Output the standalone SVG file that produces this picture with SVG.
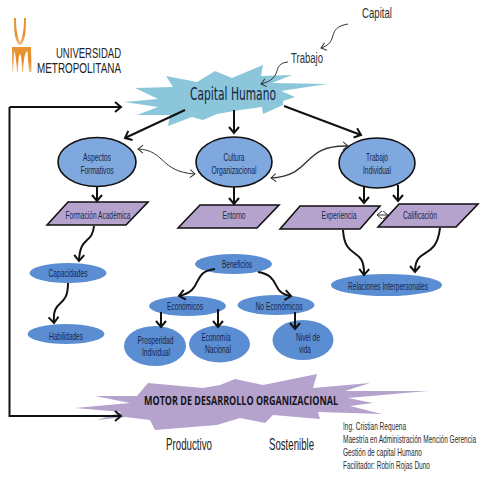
<svg xmlns="http://www.w3.org/2000/svg" width="480" height="480" viewBox="0 0 480 480">
<style>
text{font-family:"Liberation Sans",Arial,sans-serif;text-anchor:middle}
.l{font-size:11.500px;fill:#16264c}
.i{font-size:11.500px;fill:#2b2b2b;text-anchor:start}
.o{fill:#7fa8de;stroke:#111;stroke-width:1.6}
.p{fill:#b6a3cd;stroke:#111;stroke-width:1.6}
.b{fill:#5b8dd2}
.t{font-size:17px;fill:#222}
.c{fill:none;stroke:#111;stroke-width:2}
.m{fill:none;stroke:#111;stroke-width:2}
.n{fill:none;stroke:#333;stroke-width:1}
</style>
<defs>
<marker id="a" markerUnits="userSpaceOnUse" markerWidth="14" markerHeight="14" refX="10" refY="7" orient="auto"><path d="M4,2 L10,7 L4,12" fill="none" stroke="#111" stroke-width="2"/></marker>
<marker id="s" markerUnits="userSpaceOnUse" markerWidth="12" markerHeight="12" refX="9" refY="6" orient="auto-start-reverse"><path d="M4,2 L9,6 L4,10" fill="none" stroke="#333" stroke-width="1"/></marker>
<linearGradient id="og" x1="0" y1="0" x2="0" y2="1"><stop offset="0" stop-color="#e8963a"/><stop offset="0.6" stop-color="#e98a22"/><stop offset="1" stop-color="#f4c48a"/></linearGradient>
</defs>
<g id="logo">
<path d="M14,18 L16,18 C16,32 18,40 21,43 L19,45 C15,41 14,32 14,18Z M24,18 L26,18 C26,32 25,41 21,45 L19,44 C22,40 24,32 24,18Z" fill="url(#og)"/>
<path d="M12,47 H31 L31.500,72 H29 L27.500,51 C25,53 24,56 23,72 H22 C22,60 21,54 20,54 C19,54 18,60 18,72 H17 C16,56 15,53 14,51 L13,72 H12.500Z" fill="url(#og)"/>
<text x="88.500" y="58" font-size="14.500" fill="#222" textLength="65" lengthAdjust="spacingAndGlyphs">UNIVERSIDAD</text>
<text x="79" y="73" font-size="14.500" fill="#222" textLength="84" lengthAdjust="spacingAndGlyphs">METROPOLITANA</text>
</g>
<g id="capital-humano">
<path d="M124,102 L158,99 L135,88 L173,87 L166,76 L197,82 L215,71 L232,78 L263,65 L261,76 L292,75 L272,83 L327,84 L281,91 L295,97 L283,101 L283,105 L263,114 L262,107 L240,110 L217,114 L203,120 L192,117 L168,126 L170,115 L137,115 L158,107 Z" fill="#8cc6db"/>
<text x="233" y="100" font-size="17.500" fill="#14233f" textLength="86" lengthAdjust="spacingAndGlyphs" style="font-family:'DejaVu Sans',sans-serif">Capital Humano</text>
</g>
<g id="motor">
<path d="M148,383 L203,388 L220,385 L235,379 L263,385 L317,374 L313,388 L370,383 L345,391 L428,391 L348,398 L373,403 L350,406 L382,414 L318,412 L320,419 L273,415 L265,423 L240,418 L217,425 L155,430 L150,420 L125,417 L97,420 L122,412 L75,408 L130,403 L95,396 L137,396 Z" fill="#b6a3cd"/>
<text x="241" y="405" font-size="13" font-weight="bold" fill="#15151c" textLength="194" lengthAdjust="spacingAndGlyphs" style="font-family:'Open Sans',sans-serif">MOTOR DE DESARROLLO ORGANIZACIONAL</text>
</g>
<g id="aspectos"><ellipse class="o" cx="97" cy="162" rx="39" ry="24.500"/><text class="l" x="97" y="161" textLength="28" lengthAdjust="spacingAndGlyphs">Aspectos</text><text class="l" x="97" y="174" textLength="33" lengthAdjust="spacingAndGlyphs">Formativos</text></g>
<g id="cultura"><ellipse class="o" cx="234" cy="162" rx="38" ry="25"/><text class="l" x="234" y="161" textLength="21" lengthAdjust="spacingAndGlyphs">Cultura</text><text class="l" x="234" y="174" textLength="45" lengthAdjust="spacingAndGlyphs">Organizacional</text></g>
<g id="trabajo-individual"><ellipse class="o" cx="377" cy="163" rx="38" ry="25"/><text class="l" x="377" y="161" textLength="22" lengthAdjust="spacingAndGlyphs">Trabajo</text><text class="l" x="377" y="174" textLength="28" lengthAdjust="spacingAndGlyphs">Individual</text></g>
<g id="formacion"><path class="p" d="M47,225 L68,202 L148,202 L126,225Z"/><text class="l" x="98" y="219" textLength="65" lengthAdjust="spacingAndGlyphs">Formación Académica</text></g>
<g id="entorno"><path class="p" d="M178,228 L200,205 L279,205 L257,228Z"/><text class="l" x="234" y="219" textLength="23" lengthAdjust="spacingAndGlyphs">Entorno</text></g>
<g id="experiencia"><path class="p" d="M280,229 L300,206 L380,206 L360,229Z"/><text class="l" x="339" y="219" textLength="35" lengthAdjust="spacingAndGlyphs">Experiencia</text></g>
<g id="calificacion"><path class="p" d="M378,227 L399,204 L478,204 L456,227Z"/><text class="l" x="420" y="219" textLength="34" lengthAdjust="spacingAndGlyphs">Calificación</text></g>
<g id="capacidades"><ellipse class="b" cx="68" cy="273" rx="38.500" ry="10"/><text class="l" x="68" y="277" textLength="39" lengthAdjust="spacingAndGlyphs">Capacidades</text></g>
<g id="habilidades"><ellipse class="b" cx="66" cy="334" rx="38.500" ry="10"/><text class="l" x="66" y="340" textLength="34" lengthAdjust="spacingAndGlyphs">Habilidades</text></g>
<g id="beneficios"><ellipse class="b" cx="233.500" cy="264" rx="38.500" ry="10"/><text class="l" x="237" y="268" textLength="30" lengthAdjust="spacingAndGlyphs">Beneficios</text></g>
<g id="economicos"><ellipse class="b" cx="187.500" cy="306" rx="38.500" ry="10"/><text class="l" x="185" y="310" textLength="36" lengthAdjust="spacingAndGlyphs">Económicos</text></g>
<g id="no-economicos"><ellipse class="b" cx="276" cy="305" rx="38.500" ry="10"/><text class="l" x="279" y="310" textLength="47" lengthAdjust="spacingAndGlyphs">No Económicos</text></g>
<g id="prosperidad"><ellipse class="b" cx="155" cy="346" rx="31" ry="20"/><text class="l" x="155.500" y="344" textLength="36" lengthAdjust="spacingAndGlyphs">Prosperidad</text><text class="l" x="156" y="356" textLength="28" lengthAdjust="spacingAndGlyphs">Individual</text></g>
<g id="economia"><ellipse class="b" cx="219.500" cy="344" rx="30.500" ry="18.500"/><text class="l" x="216" y="341" textLength="29" lengthAdjust="spacingAndGlyphs">Economía</text><text class="l" x="218" y="353" textLength="26" lengthAdjust="spacingAndGlyphs">Nacional</text></g>
<g id="nivel"><ellipse class="b" cx="303" cy="340" rx="30.500" ry="20"/><text class="l" x="308" y="341" textLength="24" lengthAdjust="spacingAndGlyphs">Nivel de</text><text class="l" x="305" y="353" textLength="12" lengthAdjust="spacingAndGlyphs">vida</text></g>
<g id="relaciones"><ellipse class="b" cx="386.500" cy="285" rx="55.500" ry="11"/><text class="l" x="388" y="290" textLength="80" lengthAdjust="spacingAndGlyphs">Relaciones Interpersonales</text></g>
<g id="labels">
<text x="377" y="18" font-size="14" fill="#333" textLength="30" lengthAdjust="spacingAndGlyphs">Capital</text>
<text x="307" y="63" font-size="14" fill="#333" textLength="32" lengthAdjust="spacingAndGlyphs">Trabajo</text>
<text class="t" x="189" y="450" textLength="46" lengthAdjust="spacingAndGlyphs">Productivo</text>
<text class="t" x="291.500" y="450" textLength="45" lengthAdjust="spacingAndGlyphs">Sostenible</text>
<text class="i" x="343" y="430" textLength="63" lengthAdjust="spacingAndGlyphs">Ing. Cristian Requena</text>
<text class="i" x="343" y="443" textLength="133" lengthAdjust="spacingAndGlyphs">Maestría en Administración Mención Gerencia</text>
<text class="i" x="343" y="456" textLength="79" lengthAdjust="spacingAndGlyphs">Gestión de capital Humano</text>
<text class="i" x="343" y="469" textLength="87" lengthAdjust="spacingAndGlyphs">Facilitador: Robín Rojas Duno</text>
</g>
<g id="connectors">
<path class="c" d="M9.500,107 V416 H121" marker-end="url(#a)"/>
<path class="c" d="M9.500,107 H121" marker-end="url(#a)"/>
<path class="c" d="M185,110 L125,138" marker-end="url(#a)"/>
<path class="c" d="M234,110 V133" marker-end="url(#a)"/>
<path class="c" d="M284,106 L361,135" marker-end="url(#a)"/>
<path class="m" d="M97,187 V201" marker-end="url(#a)"/>
<path class="m" d="M234,187 V204" marker-end="url(#a)"/>
<path class="m" d="M364,186 V203" marker-end="url(#a)"/>
<path class="m" d="M398,185 V201" marker-end="url(#a)"/>
<path class="m" d="M94,226 C92,245 80,235 79,261" marker-end="url(#a)"/>
<path class="m" d="M68,283 C68,310 52,297 54,323" marker-end="url(#a)"/>
<path class="m" d="M343,230 C345,262 365,245 364,275" marker-end="url(#a)"/>
<path class="m" d="M440,228 C436,262 415,245 415,272" marker-end="url(#a)"/>
<path class="m" d="M215,269 C190,272 205,290 179,296" marker-end="url(#a)"/>
<path class="m" d="M258,272 C282,276 270,293 291,296" marker-end="url(#a)"/>
<path class="m" d="M161,312 V327" marker-end="url(#a)"/>
<path class="m" d="M218,309 V327" marker-end="url(#a)"/>
<path class="m" d="M295,312 V329" marker-end="url(#a)"/>
<path class="n" d="M377,215 H388" marker-start="url(#s)" marker-end="url(#s)"/>
<path class="n" d="M138,149 C165,150 160,172 195,174" marker-start="url(#s)" marker-end="url(#s)"/>
<path class="n" style="stroke-width:1.400" d="M271,178 C315,175 300,145 348,146" marker-start="url(#s)" marker-end="url(#s)"/>
<path class="n" d="M348,24 C325,28 340,42 321,48" marker-end="url(#s)"/>
<path class="n" d="M288,62 C270,64 285,78 261,84" marker-end="url(#s)"/>
</g>
</svg>
